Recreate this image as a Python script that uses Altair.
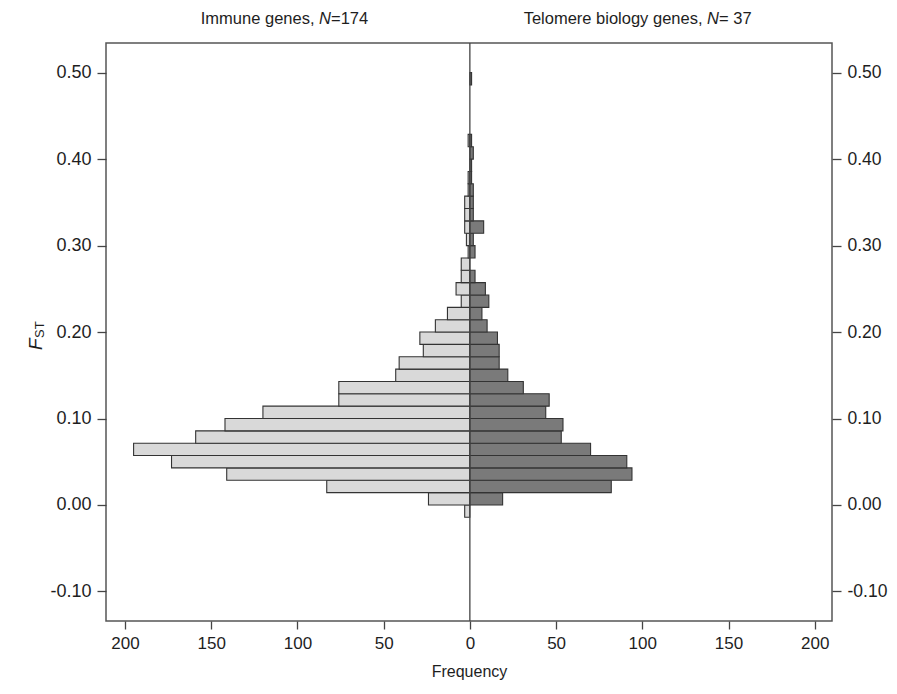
import altair as alt
import pandas as pd

# ---- data (bins of width 1/70 in FST) ----
bin_index = list(range(-1, 35))
immune = [3, 24, 83, 141, 173, 195, 159, 142, 120, 76, 76, 43, 41, 27, 29, 20, 13, 5, 8, 5,
          5, 1, 2, 3, 3, 3, 1, 1, 0, 0, 1, 0, 0, 0, 0, 0]
telomere = [0, 19, 82, 94, 91, 70, 53, 54, 44, 46, 31, 22, 17, 17, 16, 10, 7, 11, 9, 3,
            0, 3, 2, 8, 2, 2, 2, 1, 1, 2, 1, 0, 0, 0, 0, 1]
bin_width = 1 / 70

x_ticks = [-200, -150, -100, -50, 0, 50, 100, 150, 200]
y_ticks = [-0.10, 0.0, 0.10, 0.20, 0.30, 0.40, 0.50]
x_domain = [-211, 210]
y_domain = [-0.1342, 0.5343]

rows = []
for k, a, b in zip(bin_index, immune, telomere):
    lo, hi = k * bin_width, (k + 1) * bin_width
    if a > 0:
        rows.append({"group": "Immune", "lo": lo, "hi": hi, "x0": -a, "x1": 0})
    if b > 0:
        rows.append({"group": "Telomere", "lo": lo, "hi": hi, "x0": 0, "x1": b})
bars_df = pd.DataFrame(rows)

FONT = "Liberation Sans"
INK = "#1e1e1e"

xscale = alt.Scale(domain=x_domain, nice=False, zero=False)
yscale = alt.Scale(domain=y_domain, nice=False, zero=False)

ylab_expr = "(datum.value < -0.0001 ? '-' : '') + format(abs(datum.value), '.2f')"

bars = alt.Chart(bars_df).mark_bar(stroke="#333333", strokeWidth=1.1).encode(
    x=alt.X("x0:Q", scale=xscale,
            axis=alt.Axis(values=x_ticks, labelExpr="abs(datum.value)", tickSize=8,
                          domain=False, grid=False, labelFontSize=17, labelFont=FONT,
                          labelColor=INK, tickColor="#444444", tickWidth=1.3,
                          labelPadding=6, title="Frequency", titleFont=FONT,
                          titleFontSize=16, titleFontWeight="normal", titleColor=INK,
                          titlePadding=12)),
    x2="x1:Q",
    y=alt.Y("lo:Q", scale=yscale,
            axis=alt.Axis(values=y_ticks, labelExpr=ylab_expr, orient="left", tickSize=9,
                          domain=False, grid=False, labelFontSize=18, labelFont=FONT,
                          labelColor=INK, tickColor="#444444", tickWidth=1.3,
                          labelPadding=6, title=None)),
    y2="hi:Q",
    color=alt.Color("group:N", scale=alt.Scale(domain=["Immune", "Telomere"],
                                               range=["#d9d9d9", "#7a7a7a"]), legend=None),
)

center = alt.Chart(pd.DataFrame({"x": [0]})).mark_rule(color="#444444", strokeWidth=1.3).encode(
    x=alt.X("x:Q", scale=xscale)
)

right_axis = alt.Chart(pd.DataFrame({"y": y_ticks})).mark_point(opacity=0).encode(
    y=alt.Y("y:Q", scale=yscale,
            axis=alt.Axis(values=y_ticks, labelExpr=ylab_expr, orient="right", tickSize=9,
                          domain=False, grid=False, labelFontSize=17.5, labelFont=FONT,
                          labelColor=INK, tickColor="#444444", tickWidth=1.3,
                          labelPadding=6, title=None))
)

# ---- annotation texts (panel titles and y-axis title with italics) ----
title_df = pd.DataFrame([
    {"t": "Immune genes,", "px": 208.5, "style": "normal", "align": "right"},
    {"t": "N", "px": 213.1, "style": "italic", "align": "left"},
    {"t": "=174", "px": 225.0, "style": "normal", "align": "left"},
    {"t": "Telomere biology genes,", "px": 596.5, "style": "normal", "align": "right"},
    {"t": "N", "px": 601.1, "style": "italic", "align": "left"},
    {"t": "= 37", "px": 613.0, "style": "normal", "align": "left"},
])


def title_piece(row):
    return alt.Chart(pd.DataFrame({"t": [row["t"]]})).mark_text(
        font=FONT, fontSize=16.5, fontStyle=row["style"], align=row["align"],
        baseline="middle", color=INK
    ).encode(text="t:N", x=alt.value(row["px"]), y=alt.value(-24))


title_layers = [title_piece(r) for _, r in title_df.iterrows()]

fst_F = alt.Chart(pd.DataFrame({"t": ["F"]})).mark_text(
    font=FONT, fontSize=19, fontStyle="italic", align="left", baseline="alphabetic",
    angle=270, color=INK
).encode(text="t:N", x=alt.value(-64), y=alt.value(307))
fst_ST = alt.Chart(pd.DataFrame({"t": ["ST"]})).mark_text(
    font=FONT, fontSize=13, align="left", baseline="alphabetic", angle=270, color=INK
).encode(text="t:N", x=alt.value(-62), y=alt.value(295))

chart = alt.layer(
    bars, center, right_axis, fst_F, fst_ST, *title_layers
).resolve_scale(y="independent").properties(
    width=726, height=578,
    autosize=alt.AutoSizeParams(type="none"),
    padding={"left": 98, "top": 35, "right": 57, "bottom": 62},
).configure_view(stroke="#555555", strokeWidth=1.5)

chart.save("out.html", embed_options={"renderer": "svg", "actions": False})
